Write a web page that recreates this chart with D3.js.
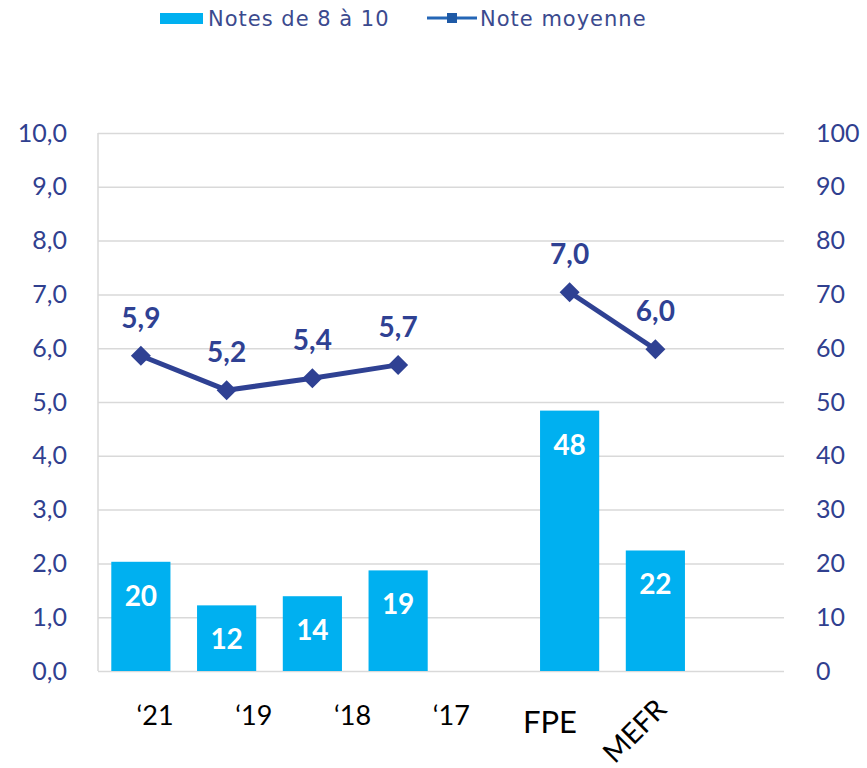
<!DOCTYPE html>
<html>
<head>
<meta charset="utf-8">
<script src="https://cdn.jsdelivr.net/npm/d3@7"></script>
<style>
  body { margin: 0; background: #fff; }
  svg { display: block; }
</style>
</head>
<body>
<div id="chart"></div>
<script>
// Chart data
const categories = ["2021", "2019", "2018", "2017", "gap", "FPE", "MEFR", "end"];
const xLabels = ["\u201821", "\u201819", "\u201818", "\u201817", "FPE", "MEFR"];
const barCats = ["2021", "2019", "2018", "2017", "FPE", "MEFR"];
const barValues = [20.3, 12.2, 13.9, 18.7, 48.4, 22.4]; // notes de 8 à 10 (%)
const lineValues = [5.86, 5.22, 5.44, 5.69, 7.04, 5.98]; // note moyenne
const lineSegments = [["2021", "2019", "2018", "2017"], ["FPE", "MEFR"]];
const leftTicks = [0, 1, 2, 3, 4, 5, 6, 7, 8, 9, 10];
const rightTicks = [0, 10, 20, 30, 40, 50, 60, 70, 80, 90, 100];

const width = 867;
const height = 768;
const plot = { left: 98, right: 784, top: 133, bottom: 671 };

const barColor = "#00B0F0";
const lineColor = "#2F4193";
const axisText = "#30408F";
const gridColor = "#D9D9D9";
const numFont = "Lato, 'Open Sans', sans-serif";

const svg = d3.select("#chart").append("svg")
  .attr("width", width)
  .attr("height", height);

const x = d3.scaleBand()
  .domain(categories)
  .range([plot.left, plot.right])
  .paddingInner(0.31)
  .paddingOuter(0.155);

const yLeft = d3.scaleLinear().domain([0, 10]).range([plot.bottom, plot.top]);
const yRight = d3.scaleLinear().domain([0, 100]).range([plot.bottom, plot.top]);

// label row for the x categories (placed as text boxes in the original)
const labelX = d3.scaleLinear().domain([0, 4]).range([155, 550]);

const comma1 = d => d3.format(".1f")(d).replace(".", ",");

// gridlines
svg.append("g")
  .attr("transform", `translate(${plot.left},0)`)
  .call(d3.axisLeft(yLeft).tickValues(leftTicks).tickSize(-(plot.right - plot.left)).tickFormat(""))
  .call(g => g.select(".domain").remove())
  .call(g => g.selectAll(".tick line").attr("stroke", gridColor).attr("stroke-width", 1.5));

// left border line
svg.append("line")
  .attr("x1", plot.left).attr("x2", plot.left)
  .attr("y1", plot.top).attr("y2", plot.bottom)
  .attr("stroke", gridColor).attr("stroke-width", 1.5);

// left axis labels
svg.append("g")
  .attr("transform", `translate(${plot.left},0)`)
  .call(d3.axisLeft(yLeft).tickValues(leftTicks).tickSize(0).tickPadding(31).tickFormat(comma1))
  .call(g => g.select(".domain").remove())
  .call(g => g.selectAll("text")
    .attr("fill", axisText)
    .style("font-family", numFont)
    .style("font-size", "25px"));

// right axis labels
svg.append("g")
  .attr("transform", `translate(${plot.right},0)`)
  .call(d3.axisRight(yRight).tickValues(rightTicks).tickSize(0).tickPadding(32).tickFormat(d3.format("d")))
  .call(g => g.select(".domain").remove())
  .call(g => g.selectAll("text")
    .attr("fill", axisText)
    .style("font-family", numFont)
    .style("font-size", "25px"));

const barData = barCats.map((c, i) => ({ cat: c, value: barValues[i], note: lineValues[i] }));

// bars
svg.append("g")
  .selectAll("rect")
  .data(barData)
  .join("rect")
  .attr("x", d => x(d.cat))
  .attr("y", d => yRight(d.value))
  .attr("width", x.bandwidth())
  .attr("height", d => yRight(0) - yRight(d.value))
  .attr("fill", barColor);

// bar labels
svg.append("g")
  .selectAll("text")
  .data(barData)
  .join("text")
  .attr("x", d => x(d.cat) + x.bandwidth() / 2)
  .attr("y", d => yRight(d.value) + 33)
  .attr("text-anchor", "middle")
  .attr("dominant-baseline", "central")
  .attr("fill", "#fff")
  .style("font-family", numFont)
  .style("font-weight", "bold")
  .style("font-size", "28px")
  .text(d => d3.format(".0f")(d.value));

// line segments
const line = d3.line()
  .x(d => x(d.cat) + x.bandwidth() / 2)
  .y(d => yLeft(d.note));

svg.append("g")
  .selectAll("path")
  .data(lineSegments.map(seg => barData.filter(d => seg.includes(d.cat))))
  .join("path")
  .attr("d", line)
  .attr("fill", "none")
  .attr("stroke", lineColor)
  .attr("stroke-width", 5)
  .attr("stroke-linejoin", "round");

// diamond markers
svg.append("g")
  .selectAll("path")
  .data(barData)
  .join("path")
  .attr("transform", d => `translate(${x(d.cat) + x.bandwidth() / 2},${yLeft(d.note)})`)
  .attr("d", "M0,-10L10,0L0,10L-10,0Z")
  .attr("fill", lineColor);

// line labels
svg.append("g")
  .selectAll("text")
  .data(barData)
  .join("text")
  .attr("x", d => x(d.cat) + x.bandwidth() / 2)
  .attr("y", d => yLeft(d.note) - 39)
  .attr("text-anchor", "middle")
  .attr("dominant-baseline", "central")
  .attr("fill", lineColor)
  .style("font-family", numFont)
  .style("font-weight", "bold")
  .style("font-size", "28px")
  .text(d => comma1(d.note));

// x labels
const xl = svg.append("g")
  .style("font-family", numFont)
  .attr("fill", "#000");

xl.selectAll("text.year")
  .data(xLabels.slice(0, 4))
  .join("text")
  .attr("class", "year")
  .attr("x", (d, i) => labelX(i))
  .attr("y", 725)
  .attr("text-anchor", "middle")
  .style("font-size", "27px")
  .text(d => d);

xl.append("text")
  .attr("x", labelX(4))
  .attr("y", 733)
  .attr("text-anchor", "middle")
  .style("font-size", "31px")
  .text(xLabels[4]);

xl.append("text")
  .attr("transform", `translate(${labelX(5) - 15},${730}) rotate(-45)`)
  .attr("text-anchor", "middle")
  .attr("dominant-baseline", "central")
  .style("font-size", "28px")
  .text(xLabels[5]);

// legend
const legend = svg.append("g")
  .style("font-family", "'DejaVu Sans', sans-serif")
  .style("font-size", "21px")
  .style("letter-spacing", "1px");

legend.append("rect")
  .attr("x", 160).attr("y", 13)
  .attr("width", 43).attr("height", 11)
  .attr("fill", barColor);

legend.append("text")
  .attr("x", 208).attr("y", 26)
  .attr("fill", "#3B4A8E")
  .text("Notes de 8 à 10");

legend.append("line")
  .attr("x1", 427).attr("x2", 477)
  .attr("y1", 18).attr("y2", 18)
  .attr("stroke", "#2466B6")
  .attr("stroke-width", 3);

legend.append("rect")
  .attr("x", 447).attr("y", 13)
  .attr("width", 10).attr("height", 10)
  .attr("fill", "#1F5AA6");

legend.append("text")
  .attr("x", 480).attr("y", 26)
  .attr("fill", "#3B4A8E")
  .text("Note moyenne");
</script>
</body>
</html>
